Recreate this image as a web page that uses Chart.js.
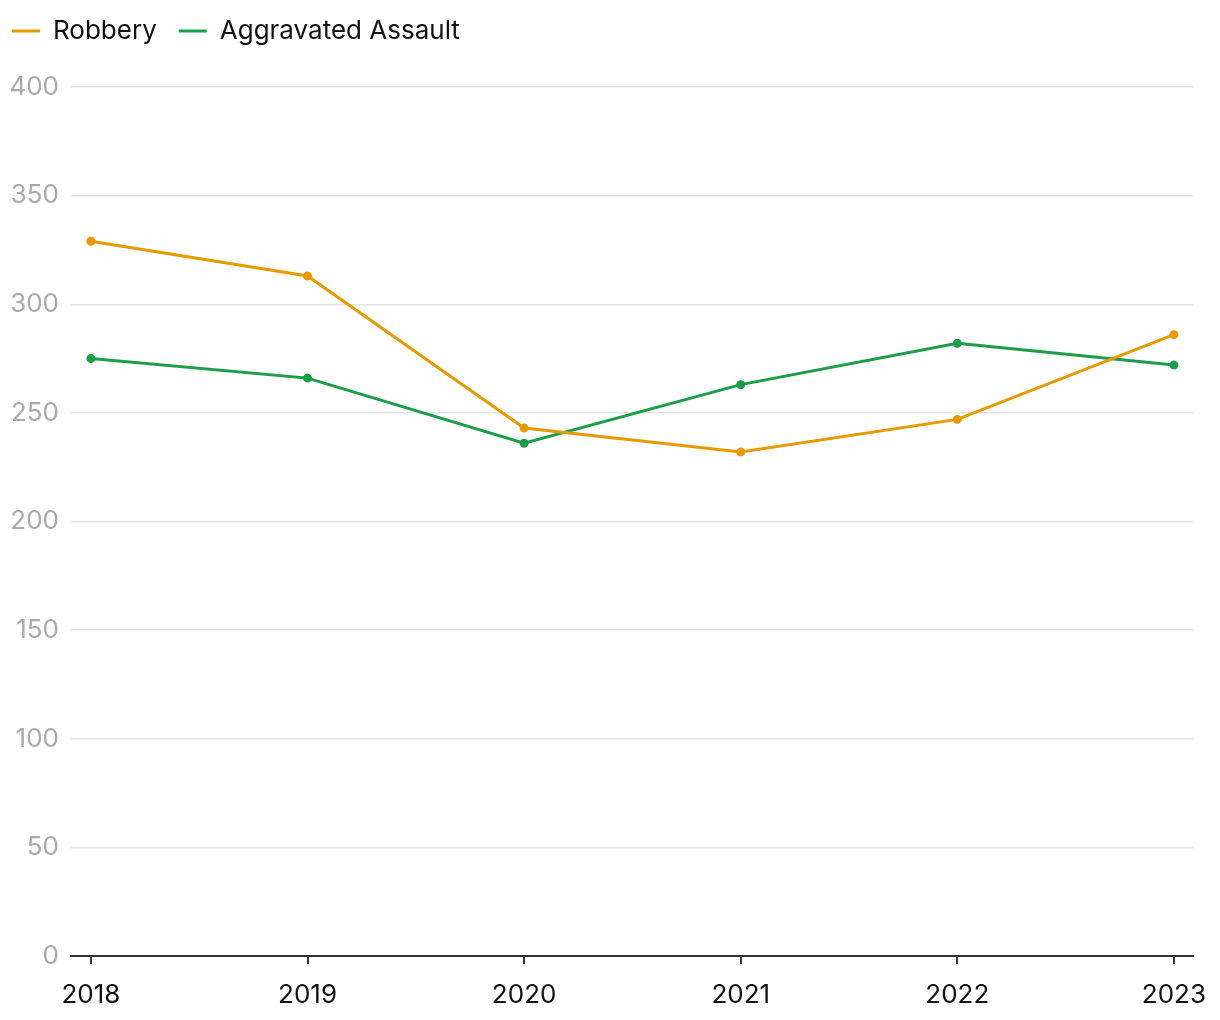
<!DOCTYPE html>
<html lang="en">
<head>
    <meta charset="UTF-8">
    <title>Robbery vs Aggravated Assault</title>
    <script src="https://cdn.jsdelivr.net/npm/chart.js"></script>
    <style>
        html, body { margin: 0; padding: 0; background: #fff; }
        .chart-box { width: 1220px; height: 1020px; position: relative; }
    </style>
</head>
<body>
    <div class="chart-box">
        <canvas id="crimeChart"></canvas>
    </div>
    <script>
        // values
        const years = [2018, 2019, 2020, 2021, 2022, 2023];
        const robbery = [329, 313, 243, 232, 247, 286];
        const assault = [275, 266, 236, 263, 282, 272];
        const yTicks = [0, 50, 100, 150, 200, 250, 300, 350, 400];

        Chart.defaults.font.family = 'Inter, "Noto Sans", sans-serif';

        function series(label, values, color) {
            return {
                label: label,
                data: years.map((yr, i) => ({ x: yr, y: values[i] })),
                borderColor: color,
                backgroundColor: color,
                borderWidth: 3,
                pointRadius: 3,
                pointHoverRadius: 4,
                tension: 0
            };
        }

        // push the plot area a bit further below the legend
        const legendGap = {
            id: 'legendGap',
            beforeInit(chart) {
                const fit = chart.legend.fit;
                chart.legend.fit = function () {
                    fit.bind(chart.legend)();
                    this.height += 33;
                };
            }
        };

        const ctx = document.getElementById('crimeChart').getContext('2d');
        new Chart(ctx, {
            type: 'line',
            data: {
                datasets: [
                    series('Robbery', robbery, '#e69a00'),
                    series('Aggravated Assault', assault, '#1a9e48')
                ]
            },
            plugins: [legendGap],
            options: {
                responsive: true,
                maintainAspectRatio: false,
                animation: false,
                // negative left/top so the wider legend spacing still starts near the edge
                layout: { padding: { left: -10, right: 27, top: -4, bottom: 0 } },
                plugins: {
                    legend: {
                        position: 'top',
                        align: 'start',
                        labels: {
                            usePointStyle: true,
                            pointStyle: 'line',
                            pointStyleWidth: 28,
                            color: '#111',
                            font: { size: 26 },
                            padding: 22
                        }
                    },
                    tooltip: { enabled: false }
                },
                scales: {
                    x: {
                        type: 'linear',
                        min: years[0] - 0.092,
                        max: years[years.length - 1] + 0.088,
                        afterBuildTicks: scale => {
                            scale.ticks = years.map(v => ({ value: v }));
                        },
                        afterFit: scale => {
                            scale.height = 64;
                            scale.paddingLeft = 0;
                            scale.paddingRight = 0;
                        },
                        ticks: {
                            color: '#111',
                            font: { size: 26 },
                            padding: 16,
                            callback: v => String(v)
                        },
                        grid: {
                            drawOnChartArea: false,
                            drawTicks: true,
                            tickLength: 8,
                            color: '#333',
                            lineWidth: 2
                        },
                        border: { display: true, color: '#333', width: 2 }
                    },
                    y: {
                        min: 0,
                        max: 400,
                        afterBuildTicks: scale => {
                            scale.ticks = yTicks.map(v => ({ value: v }));
                        },
                        afterFit: scale => { scale.width = 81; },
                        ticks: {
                            color: '#aaa',
                            font: { size: 26 },
                            padding: 12
                        },
                        grid: {
                            color: '#e3e3e3',
                            lineWidth: 1.5,
                            drawTicks: false
                        },
                        border: { display: false }
                    }
                }
            }
        });
    </script>
</body>
</html>
